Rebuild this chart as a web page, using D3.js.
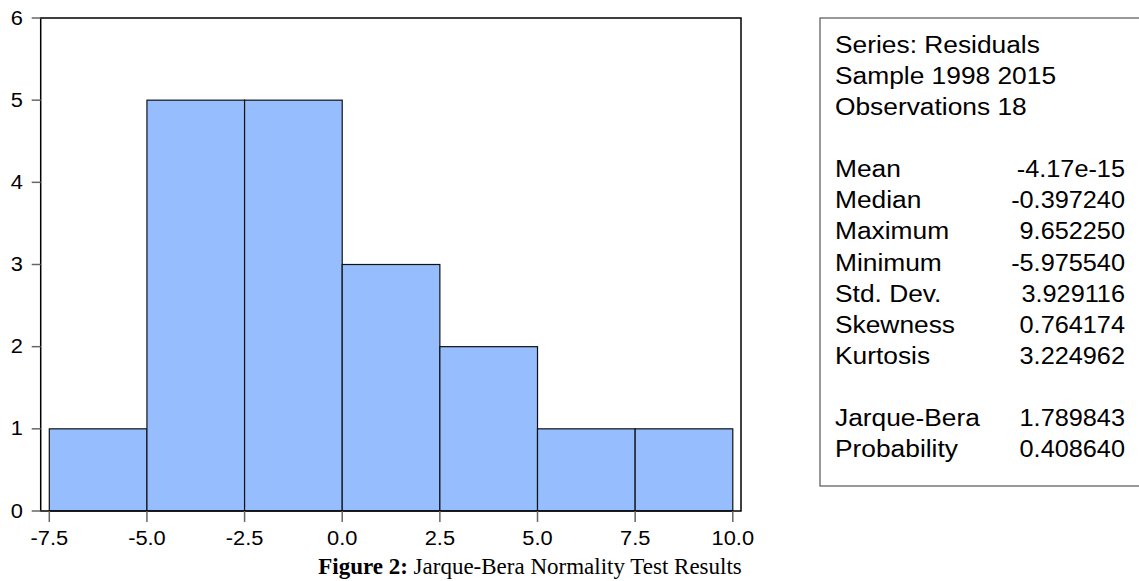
<!DOCTYPE html>
<html>
<head>
<meta charset="utf-8">
<script src="https://cdn.jsdelivr.net/npm/d3@7"></script>
<style>
  body { margin: 0; background: #fff; }
  svg { display: block; }
  .lbl { font-family: "Liberation Sans", Arial, sans-serif; fill: #000; }
</style>
</head>
<body>
<div id="chart"></div>
<script>
// histogram bins (left edges) and counts
const binStarts = [-7.5, -5.0, -2.5, 0.0, 2.5, 5.0, 7.5];
const binWidth = 2.5;
const counts = [1, 5, 5, 3, 2, 1, 1];
const xTicks = [-7.5, -5.0, -2.5, 0.0, 2.5, 5.0, 7.5, 10.0];
const yTicks = [0, 1, 2, 3, 4, 5, 6];

// stats panel
const statLabels = ["Series: Residuals", "Sample 1998 2015", "Observations 18", "",
  "Mean", "Median", "Maximum", "Minimum", "Std. Dev.", "Skewness", "Kurtosis", "",
  "Jarque-Bera", "Probability"];
const statValues = ["", "", "", "",
  "-4.17e-15", "-0.397240", "9.652250", "-5.975540", "3.929116", "0.764174", "3.224962", "",
  "1.789843", "0.408640"];

function drawChart() {
    const W = 1139, H = 581;
    const plot = {left: 40.7, right: 741, top: 18, bottom: 511};

    const svg = d3.select("#chart").append("svg")
        .attr("width", W)
        .attr("height", H);

    const x = d3.scaleLinear()
        .domain([-7.72, 10.21])
        .range([plot.left, plot.right]);
    const y = d3.scaleLinear()
        .domain([0, 6])
        .range([plot.bottom, plot.top]);

    // bars
    svg.selectAll(".bar")
        .data(binStarts)
        .join("rect")
        .attr("class", "bar")
        .attr("x", d => x(d))
        .attr("y", (d, i) => y(counts[i]))
        .attr("width", d => x(d + binWidth) - x(d))
        .attr("height", (d, i) => y(0) - y(counts[i]))
        .attr("fill", "#96beff")
        .attr("stroke", "#111")
        .attr("stroke-width", 1.2);

    // frame
    svg.append("rect")
        .attr("x", plot.left)
        .attr("y", plot.top)
        .attr("width", plot.right - plot.left)
        .attr("height", plot.bottom - plot.top)
        .attr("fill", "none")
        .attr("stroke", "#000")
        .attr("stroke-width", 1.5);

    // y axis ticks + labels
    svg.selectAll(".ytick")
        .data(yTicks)
        .join("line")
        .attr("x1", plot.left - 9).attr("x2", plot.left)
        .attr("y1", d => y(d)).attr("y2", d => y(d))
        .attr("stroke", "#666").attr("stroke-width", 1.5);
    svg.selectAll(".ylab")
        .data(yTicks)
        .join("text")
        .attr("class", "lbl")
        .attr("text-anchor", "end")
        .attr("font-size", 19.5)
        .attr("transform", d => `translate(23, ${y(d) + 6.5}) scale(1.12,1)`)
        .text(d => d);

    // x axis ticks + labels
    svg.selectAll(".xtick")
        .data(xTicks)
        .join("line")
        .attr("x1", d => x(d)).attr("x2", d => x(d))
        .attr("y1", plot.bottom).attr("y2", plot.bottom + 11)
        .attr("stroke", "#666").attr("stroke-width", 1.5);
    svg.selectAll(".xlab")
        .data(xTicks)
        .join("text")
        .attr("class", "lbl")
        .attr("text-anchor", "middle")
        .attr("font-size", 19.5)
        .attr("transform", d => `translate(${x(d)}, 545) scale(1.12,1)`)
        .text(d => d.toFixed(1));

    // stats box
    svg.append("rect")
        .attr("x", 820).attr("y", 18)
        .attr("width", 340).attr("height", 468)
        .attr("fill", "#fff")
        .attr("stroke", "#555").attr("stroke-width", 1.2);

    const row = i => 53.3 + i * 31.03;
    svg.selectAll(".slab")
        .data(statLabels)
        .join("text")
        .attr("class", "lbl")
        .attr("font-size", 23)
        .attr("transform", (d, i) => `translate(835, ${row(i)}) scale(1.145,1)`)
        .text(d => d);
    svg.selectAll(".sval")
        .data(statValues)
        .join("text")
        .attr("class", "lbl")
        .attr("text-anchor", "end")
        .attr("font-size", 23)
        .attr("transform", (d, i) => `translate(1125, ${row(i)}) scale(1.1,1)`)
        .text(d => d);

    // caption
    const cap = svg.append("text")
        .attr("x", 530).attr("y", 574)
        .attr("text-anchor", "middle")
        .attr("font-family", "'Liberation Serif', 'Times New Roman', serif")
        .attr("font-size", 23);
    cap.append("tspan").attr("font-weight", "bold").text("Figure 2:");
    cap.append("tspan").text(" Jarque-Bera Normality Test Results");
}

drawChart();
</script>
</body>
</html>
